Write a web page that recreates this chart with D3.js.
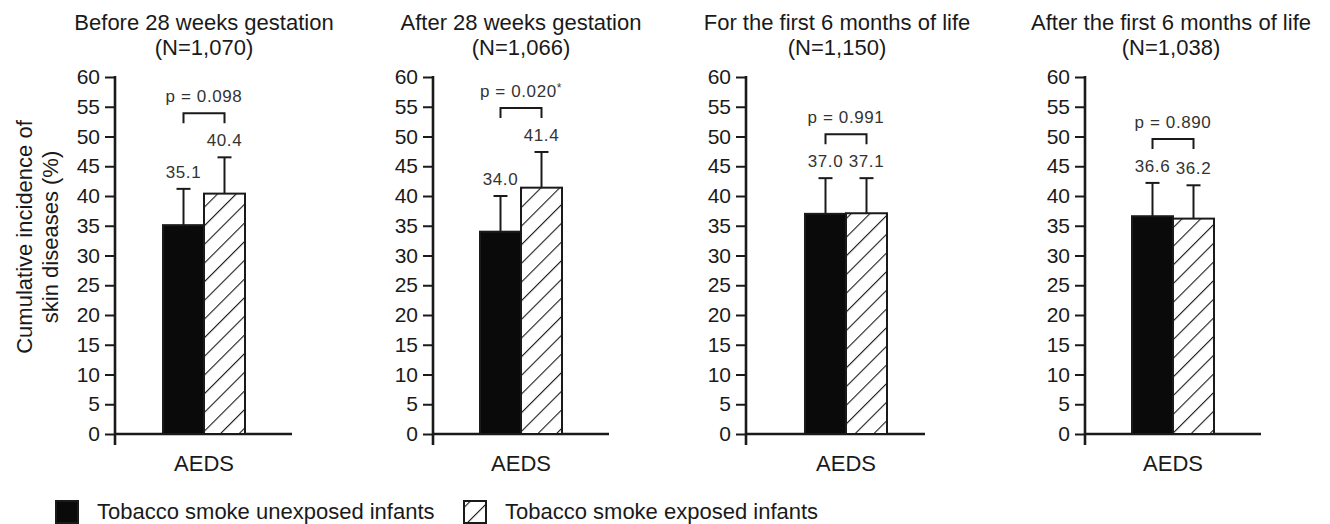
<!DOCTYPE html>
<html>
<head>
<meta charset="utf-8">
<script src="https://cdn.jsdelivr.net/npm/d3@7"></script>
<style>
  html, body { margin: 0; padding: 0; background: #fff; }
  svg { display: block; font-family: "Liberation Sans", Arial, Helvetica, sans-serif; }
</style>
</head>
<body>
<svg id="chart" width="1330" height="524"></svg>
<script>
// ---------------- data ----------------
const panelTitles = [
  "Before 28 weeks gestation",
  "After 28 weeks gestation",
  "For the first 6 months of life",
  "After the first 6 months of life"
];
const sampleSizes = ["(N=1,070)", "(N=1,066)", "(N=1,150)", "(N=1,038)"];
const category = "AEDS";
const seriesNames = ["Tobacco smoke unexposed infants", "Tobacco smoke exposed infants"];
const seriesKeys = ["unexposed", "exposed"];
const unexposedValues = [35.1, 34.0, 37.0, 36.6];
const exposedValues   = [40.4, 41.4, 37.1, 36.2];
const unexposedErrors = [6.1, 6.0, 6.0, 5.6];
const exposedErrors   = [6.1, 6.0, 5.9, 5.6];
const pLabels = ["p = 0.098", "p = 0.020", "p = 0.991", "p = 0.890"];
const pSignificant = [false, true, false, false];
const yTicks = [0, 5, 10, 15, 20, 25, 30, 35, 40, 45, 50, 55, 60];
const yTitleLines = ["Cumulative incidence of", "skin diseases (%)"];

// ---------------- layout ----------------
const layout = [
  { axisX: 115,  center: 204,  end: 292,  titleX: 204 },
  { axisX: 433,  center: 521,  end: 609,  titleX: 521 },
  { axisX: 746,  center: 846,  end: 925,  titleX: 837 },
  { axisX: 1085, center: 1173, end: 1261, titleX: 1171 }
];
const halfGroup = 41;
const ink = "#1a1a1a";

const svg = d3.select("#chart");
const defs = svg.append("defs");
const pat = defs.append("pattern")
  .attr("id", "hatch")
  .attr("patternUnits", "userSpaceOnUse")
  .attr("width", 13.2).attr("height", 13.2)
  .attr("patternTransform", "rotate(45)");
pat.append("rect").attr("width", 13.2).attr("height", 13.2).attr("fill", "#fff");
pat.append("line").attr("x1", 0).attr("y1", 0).attr("x2", 0).attr("y2", 13.2)
  .attr("stroke", ink).attr("stroke-width", 2.2);

const y = d3.scaleLinear().domain([0, 60]).range([434, 77]);
const fmt = d3.format(".1f");

layout.forEach((L, i) => {
  const g = svg.append("g");

  // titles
  g.append("text").attr("x", L.titleX).attr("y", 30).attr("text-anchor", "middle")
    .attr("font-size", 22).attr("fill", ink).text(panelTitles[i]);
  g.append("text").attr("x", L.titleX).attr("y", 55).attr("text-anchor", "middle")
    .attr("font-size", 22).attr("fill", ink).text(sampleSizes[i]);

  // y axis
  const yAxis = d3.axisLeft(y).tickValues(yTicks).tickSize(10).tickPadding(5).tickSizeOuter(0);
  const ya = g.append("g").attr("transform", `translate(${L.axisX},0)`).call(yAxis);
  ya.select(".domain").remove();
  ya.selectAll(".tick line").attr("stroke", ink).attr("stroke-width", 2);
  ya.selectAll(".tick text").attr("font-size", 21).attr("fill", ink)
    .attr("font-family", "'Liberation Sans', Arial, sans-serif");
  g.append("line")
    .attr("x1", L.axisX).attr("x2", L.axisX)
    .attr("y1", y(60) - 1).attr("y2", y(0) + 11)
    .attr("stroke", ink).attr("stroke-width", 2.6);

  // x axis
  g.append("line")
    .attr("x1", L.axisX).attr("x2", L.end)
    .attr("y1", y(0)).attr("y2", y(0))
    .attr("stroke", ink).attr("stroke-width", 2.6);
  g.append("text").attr("x", L.center).attr("y", 471).attr("text-anchor", "middle")
    .attr("font-size", 22).attr("fill", ink).text(category);

  // bars
  const xb = d3.scaleBand().domain(seriesKeys)
    .range([L.center - halfGroup, L.center + halfGroup]).paddingInner(0);
  const rows = [
    { key: "unexposed", v: unexposedValues[i], e: unexposedErrors[i] },
    { key: "exposed",   v: exposedValues[i],   e: exposedErrors[i] }
  ];

  // error bars
  rows.forEach(r => {
    const cx = xb(r.key) + xb.bandwidth() / 2;
    g.append("line").attr("x1", cx).attr("x2", cx)
      .attr("y1", y(r.v)).attr("y2", y(r.v + r.e))
      .attr("stroke", ink).attr("stroke-width", 2);
    g.append("line").attr("x1", cx - 7).attr("x2", cx + 7)
      .attr("y1", y(r.v + r.e)).attr("y2", y(r.v + r.e))
      .attr("stroke", ink).attr("stroke-width", 2);
    g.append("text").attr("x", cx).attr("y", y(r.v + r.e) - 11)
      .attr("text-anchor", "middle").attr("font-size", 17).attr("fill", "#333")
      .attr("letter-spacing", 0.6)
      .text(fmt(r.v));
  });

  g.selectAll("rect.bar").data(rows).join("rect")
    .attr("class", "bar")
    .attr("x", d => xb(d.key))
    .attr("y", d => y(d.v))
    .attr("width", xb.bandwidth())
    .attr("height", d => y(0) - y(d.v))
    .attr("fill", d => d.key === "unexposed" ? "#0a0a0a" : "url(#hatch)")
    .attr("stroke", ink)
    .attr("stroke-width", 2);

  // significance bracket
  const topY = d3.min(rows, r => y(r.v + r.e));
  const legBottom = topY - 34;
  const barTop = legBottom - 10;
  const c1 = xb("unexposed") + xb.bandwidth() / 2;
  const c2 = xb("exposed") + xb.bandwidth() / 2;
  g.append("path")
    .attr("d", `M${c1},${legBottom}V${barTop}H${c2}V${legBottom}`)
    .attr("fill", "none").attr("stroke", ink).attr("stroke-width", 2);
  const pt = g.append("text").attr("x", (c1 + c2) / 2).attr("y", barTop - 11)
    .attr("text-anchor", "middle").attr("font-size", 17).attr("fill", "#333")
    .attr("letter-spacing", 0.6);
  pt.append("tspan").text(pLabels[i]);
  if (pSignificant[i]) {
    pt.append("tspan").attr("font-size", 12).attr("dy", -5).text("*");
  }
});

// y-axis title
const yt = svg.append("g").attr("transform", "translate(0,237)");
yTitleLines.forEach((t, k) => {
  yt.append("text")
    .attr("transform", `translate(${32 + k * 26},0) rotate(-90)`)
    .attr("text-anchor", "middle").attr("font-size", 22).attr("fill", ink)
    .text(t);
});

// legend
const legendItems = [
  { name: seriesNames[0], fill: "#0a0a0a", x: 56 },
  { name: seriesNames[1], fill: "url(#hatch)", x: 464 }
];
const lg = svg.append("g");
legendItems.forEach(it => {
  lg.append("rect").attr("x", it.x).attr("y", 501).attr("width", 22).attr("height", 22)
    .attr("fill", it.fill).attr("stroke", ink).attr("stroke-width", 2);
  lg.append("text").attr("x", it.x + 41).attr("y", 519).attr("font-size", 22)
    .attr("fill", ink).text(it.name);
});
</script>
</body>
</html>
